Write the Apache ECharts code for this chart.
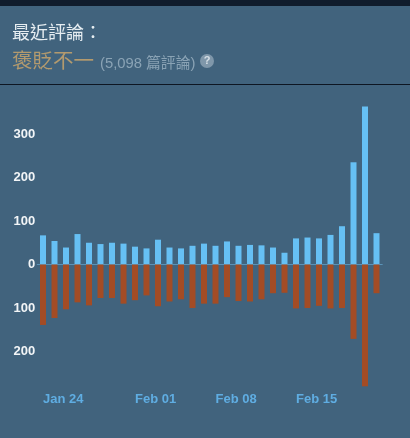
<!DOCTYPE html>
<html><head><meta charset="utf-8">
<style>html,body{margin:0;padding:0;background:#41637d}#c{width:410px;height:438px}</style>
<script src="https://cdn.jsdelivr.net/npm/echarts@6/dist/echarts.min.js"></script>
</head><body><div id="c"></div>
<script>
const categories = ['Jan 24','Jan 25','Jan 26','Jan 27','Jan 28','Jan 29','Jan 30','Jan 31','Feb 01','Feb 02','Feb 03','Feb 04','Feb 05','Feb 06','Feb 07','Feb 08','Feb 09','Feb 10','Feb 11','Feb 12','Feb 13','Feb 14','Feb 15','Feb 16','Feb 17','Feb 18','Feb 19','Feb 20','Feb 21','Feb 22'];
const positive = [67,54,39,70,50,47,50,48,41,37,57,39,37,43,48,43,53,43,45,44,39,27,60,62,60,68,88,235,363,72];
const negative = [-139,-123,-103,-87,-94,-77,-77,-90,-82,-71,-96,-85,-80,-100,-90,-90,-75,-84,-85,-80,-66,-65,-101,-100,-95,-101,-100,-171,-280,-66];
const shownDates = ['Jan 24','Feb 01','Feb 08','Feb 15'];
const hiddenTicks = [400,-300];
const chart = echarts.init(document.getElementById('c'),null,{renderer:'canvas'});
const cjk = '"Liberation Sans","Noto Sans CJK TC",sans-serif';
chart.setOption({
  backgroundColor:'#41637d',
  animation:false,
  grid:{left:37.25,width:345,top:90.5,height:304.5,containLabel:false},
  xAxis:[{type:'category',data:categories,position:'bottom',
    axisLine:{show:false,onZero:false},axisTick:{show:false},splitLine:{show:false},
    axisLabel:{margin:4,align:'left',verticalAlign:'middle',
      interval:(i,v)=>shownDates.includes(v),
      color:'#5fade2',fontFamily:'"Liberation Sans",sans-serif',fontSize:13,fontWeight:'bold'}},
   {type:'category',data:categories,position:'bottom',axisTick:{show:false},axisLabel:{show:false},
    axisLine:{show:true,onZero:true,lineStyle:{color:'#5a93b8',width:1}}}],
  yAxis:{type:'value',min:-300,max:400,interval:100,
    axisLine:{show:false},axisTick:{show:false},splitLine:{show:false},
    axisLabel:{margin:2,align:'right',color:'#f2f5f7',fontFamily:'"Liberation Sans",sans-serif',fontSize:13,fontWeight:'bold',padding:[6,0,0,0],
      formatter:v=>hiddenTicks.includes(v)?'':String(Math.abs(v))}},
  series:[
    {type:'bar',data:positive,barWidth:6,barGap:'-100%',itemStyle:{color:'#66c0f4'}},
    {type:'bar',data:negative,barWidth:6,barGap:'-100%',itemStyle:{color:'#a34c25'}}
  ],
  graphic:[
    {type:'rect',silent:true,shape:{x:0,y:0,width:410,height:6},style:{fill:'#101c2c'}},
    {type:'rect',silent:true,shape:{x:0,y:84,width:410,height:1},style:{fill:'#0e1622'}},
    {type:'text',silent:true,x:12,y:25,style:{text:'最近評論：',fill:'#e6edf1',font:'18px '+cjk}},
    {type:'text',silent:true,x:12,y:52,style:{text:'褒貶不一',fill:'#b39a6e',font:'20.5px '+cjk}},
    {type:'text',silent:true,x:100,y:57,style:{text:'(5,098 篇評論)',fill:'#8aa3b5',font:'14.8px '+cjk}},
    {type:'circle',silent:true,shape:{cx:207,cy:61,r:7},style:{fill:'#7f97aa'}},
    {type:'text',silent:true,x:207,y:61,style:{text:'?',fill:'#d6dfe6',font:'bold 11px "Liberation Sans"',align:'center',verticalAlign:'middle'}}
  ]
});
</script></body></html>
